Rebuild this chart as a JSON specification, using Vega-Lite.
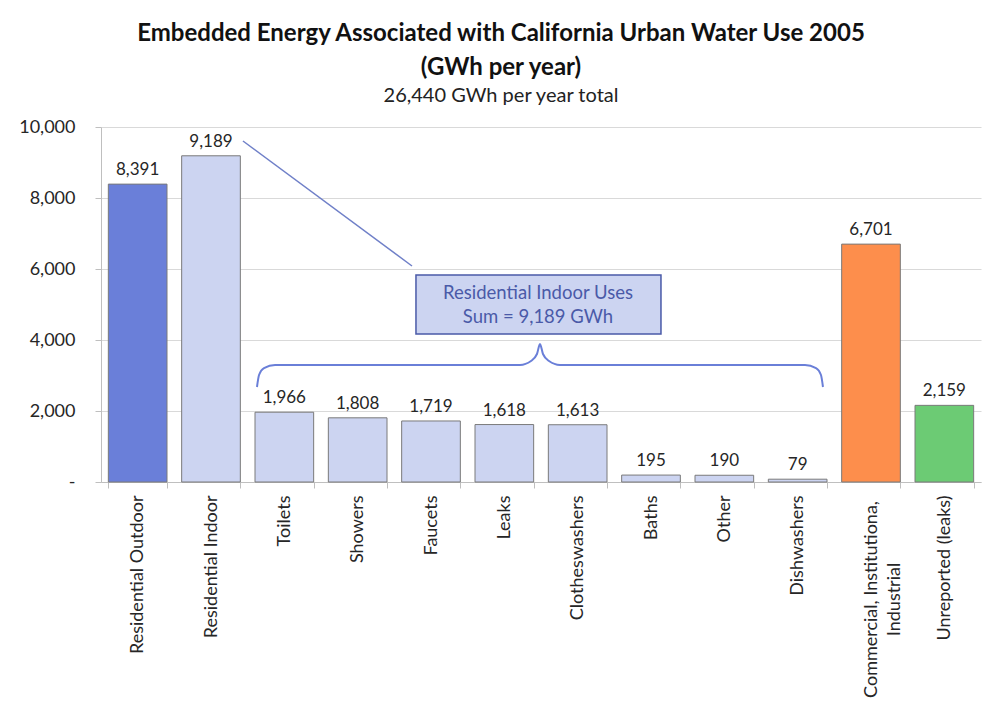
{
  "$schema": "https://vega.github.io/schema/vega-lite/v6.json",
  "autosize": {"type": "none"},
  "width": 880,
  "height": 355,
  "padding": {"left": 101, "top": 127, "right": 4, "bottom": 240},
  "background": "white",
  "config": {
    "view": {"stroke": null},
    "font": "Lato",
    "axis": {"labelFont": "Lato", "labelColor": "#262626", "labelFontSize": 18}
  },
  "title": {
    "text": ["Embedded Energy Associated with California Urban Water Use 2005", "(GWh per year)"],
    "subtitle": "26,440 GWh per year total",
    "anchor": "middle",
    "dx": -40,
    "font": "Lato",
    "fontSize": 24,
    "fontWeight": "bold",
    "color": "#111111",
    "lineHeight": 34,
    "subtitleFont": "Lato",
    "subtitleFontSize": 20,
    "subtitleColor": "#222222",
    "subtitlePadding": 6,
    "offset": 12
  },
  "datasets": {
    "uses": [
      {"cat": "Residential Outdoor", "value": 8391, "group": "outdoor"},
      {"cat": "Residential Indoor", "value": 9189, "group": "indoor"},
      {"cat": "Toilets", "value": 1966, "group": "indoor"},
      {"cat": "Showers", "value": 1808, "group": "indoor"},
      {"cat": "Faucets", "value": 1719, "group": "indoor"},
      {"cat": "Leaks", "value": 1618, "group": "indoor"},
      {"cat": "Clotheswashers", "value": 1613, "group": "indoor"},
      {"cat": "Baths", "value": 195, "group": "indoor"},
      {"cat": "Other", "value": 190, "group": "indoor"},
      {"cat": "Dishwashers", "value": 79, "group": "indoor"},
      {"cat": "Commercial, Institutiona, Industrial", "value": 6701, "group": "cii"},
      {"cat": "Unreported (leaks)", "value": 2159, "group": "unreported"}
    ],
    "leader": [
      {"px": 1.936, "py": 9606},
      {"px": 4.241, "py": 6085}
    ],
    "brace": [
      {"i": 1, "px": 2.127, "py": 2676},
      {"i": 2, "px": 2.155, "py": 3014},
      {"i": 3, "px": 2.223, "py": 3211},
      {"i": 4, "px": 2.373, "py": 3296},
      {"i": 5, "px": 5.714, "py": 3296},
      {"i": 6, "px": 5.864, "py": 3408},
      {"i": 7, "px": 5.945, "py": 3606},
      {"i": 8, "px": 5.986, "py": 3887},
      {"i": 9, "px": 6.027, "py": 3606},
      {"i": 10, "px": 6.109, "py": 3408},
      {"i": 11, "px": 6.259, "py": 3296},
      {"i": 12, "px": 9.6, "py": 3296},
      {"i": 13, "px": 9.75, "py": 3211},
      {"i": 14, "px": 9.818, "py": 3014},
      {"i": 15, "px": 9.845, "py": 2676}
    ],
    "box": [
      {"x1": 4.295, "x2": 7.636, "y1": 4169, "y2": 5831}
    ],
    "boxtext": [
      {"px": 5.959, "py": 5324, "label": "Residential Indoor Uses"},
      {"px": 5.959, "py": 4648, "label": "Sum = 9,189 GWh"}
    ]
  },
  "resolve": {"scale": {"x": "independent"}},
  "layer": [
    {
      "data": {"name": "uses"},
      "layer": [
        {
          "mark": {"type": "bar", "stroke": "#7a7a7a", "strokeWidth": 1},
          "encoding": {
            "x": {
              "field": "cat", "type": "nominal", "sort": null,
              "scale": {"paddingInner": 0.2, "paddingOuter": 0.1},
              "axis": {
                "title": null,
                "labelAngle": -90,
                "labelLimit": 300,
                "labelPadding": {"condition": {"test": "datum.value == 'Commercial, Institutiona, Industrial'", "value": 111}, "value": 7},
                "labelAlign": {"condition": {"test": "datum.value == 'Commercial, Institutiona, Industrial'", "value": "center"}, "value": "right"},
                "labelLineHeight": 23,
                "labelExpr": "datum.value == 'Commercial, Institutiona, Industrial' ? ['Commercial, Institutiona,', 'Industrial'] : datum.label",
                "domainColor": "#bfbfbf",
                "tickColor": "#bfbfbf",
                "tickSize": 6,
                "tickBand": "extent",
                "grid": false
              }
            },
            "y": {
              "field": "value", "type": "quantitative",
              "scale": {"domain": [0, 10000], "nice": false},
              "axis": {
                "title": null,
                "values": [0, 2000, 4000, 6000, 8000, 10000],
                "labelExpr": "datum.value == 0 ? '-\u00a0\u00a0' : format(datum.value, ',')",
                "labelPadding": 20,
                "domainColor": "#bfbfbf",
                "tickColor": "#bfbfbf",
                "tickSize": 6,
                "gridColor": "#d9d9d9"
              }
            },
            "color": {
              "field": "group", "type": "nominal",
              "scale": {"domain": ["outdoor", "indoor", "cii", "unreported"], "range": ["#6a7fd9", "#ccd4f1", "#fd8e4c", "#6ccb74"]},
              "legend": null
            }
          }
        },
        {
          "mark": {"type": "text", "baseline": "alphabetic", "dy": -9, "fontSize": 17, "color": "#262626", "font": "Lato"},
          "encoding": {
            "x": {"field": "cat", "type": "nominal", "sort": null},
            "y": {"field": "value", "type": "quantitative"},
            "text": {"field": "value", "type": "quantitative", "format": ","}
          }
        }
      ]
    },
    {
      "data": {"name": "leader"},
      "mark": {"type": "line", "color": "#7080c8", "strokeWidth": 1.5, "clip": false},
      "encoding": {
        "x": {"field": "px", "type": "quantitative", "scale": {"domain": [0, 12], "nice": false, "zero": false}, "axis": null},
        "y": {"field": "py", "type": "quantitative"}
      }
    },
    {
      "data": {"name": "brace"},
      "mark": {"type": "line", "color": "#6a7fd8", "strokeWidth": 2, "interpolate": "monotone"},
      "encoding": {
        "x": {"field": "px", "type": "quantitative", "scale": {"domain": [0, 12], "nice": false, "zero": false}, "axis": null},
        "y": {"field": "py", "type": "quantitative"},
        "order": {"field": "i"}
      }
    },
    {
      "data": {"name": "box"},
      "mark": {"type": "rect", "fill": "#ccd4f1", "stroke": "#4a5aa8", "strokeWidth": 1.5},
      "encoding": {
        "x": {"field": "x1", "type": "quantitative", "scale": {"domain": [0, 12], "nice": false, "zero": false}, "axis": null},
        "x2": {"field": "x2"},
        "y": {"field": "y1", "type": "quantitative"},
        "y2": {"field": "y2"}
      }
    },
    {
      "data": {"name": "boxtext"},
      "mark": {"type": "text", "baseline": "middle", "align": "center", "fontSize": 18.5, "color": "#4a5aa8", "font": "Lato"},
      "encoding": {
        "x": {"field": "px", "type": "quantitative", "scale": {"domain": [0, 12], "nice": false, "zero": false}, "axis": null},
        "y": {"field": "py", "type": "quantitative"},
        "text": {"field": "label"}
      }
    }
  ]
}
